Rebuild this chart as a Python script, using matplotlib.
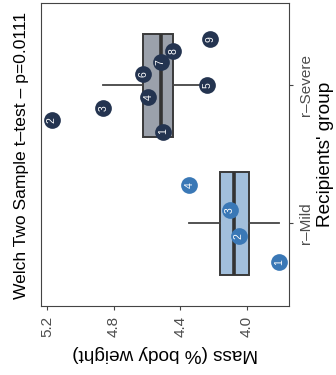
import matplotlib
matplotlib.use("Agg")
import matplotlib.pyplot as plt
import numpy as np

# data (mass in % body weight)
groups = ["r–Mild", "r–Severe"]
mild_ids = [1, 2, 3, 4]
mild_mass = [3.804, 4.047, 4.101, 4.345]
severe_ids = [1, 2, 3, 4, 5, 6, 7, 8, 9]
severe_mass = [4.505, 5.173, 4.863, 4.592, 4.236, 4.622, 4.517, 4.441, 4.220]
mass_ticks = [4.0, 4.4, 4.8, 5.2]
title = "Welch Two Sample t–test – p=0.0111"

plt.rcParams['font.family'] = ['Liberation Sans', 'DejaVu Sans']

box_colors = ['#a2bfdc', '#9ba1ab']
point_colors = ['#3a78b6', '#243450']
spreads = [0.28, 0.335]

fig = plt.figure(figsize=(3.36, 3.75), dpi=100)
ax = fig.add_axes([0.122, 0.184, 0.739, 0.809])

bp = ax.boxplot([mild_mass, severe_mass], positions=[1, 2], orientation='horizontal',
                widths=0.75, patch_artist=True, showfliers=False, showcaps=False,
                medianprops=dict(color='#333333', linewidth=2.6, solid_capstyle='butt'),
                whiskerprops=dict(color='#444444', linewidth=1.3),
                boxprops=dict(edgecolor='#3a3a3a', linewidth=1.4))
for patch, c in zip(bp['boxes'], box_colors):
    patch.set_facecolor(c)

for i, (ids, mass) in enumerate([(mild_ids, mild_mass), (severe_ids, severe_mass)]):
    ypos = (i + 1) + np.linspace(-spreads[i], spreads[i], len(ids))
    ax.scatter(mass, ypos, s=145, color=point_colors[i], zorder=3, linewidths=0)
    for idx, m, y in zip(ids, mass, ypos):
        ax.text(m, y, str(idx), color='white', fontsize=7.5,
                rotation=90, ha='center', va='center', zorder=4)

ax.set_xlim(5.238, 3.743)
ax.set_ylim(0.4, 2.6)
ax.set_xticks(mass_ticks)
ax.set_xticklabels([f"{t:.1f}" for t in mass_ticks])
ax.set_yticks([1, 2])
ax.set_yticklabels(groups, va='center')
ax.yaxis.tick_right()

ax.tick_params(axis='x', length=3, width=0.8, color='#444444', labelcolor='#4d4d4d',
               labelsize=11, labelrotation=90, pad=4)
ax.tick_params(axis='y', length=3, width=0.8, color='#444444', labelcolor='#4d4d4d',
               labelsize=11, labelrotation=90, pad=4)
for s in ax.spines.values():
    s.set_color('#444444')
    s.set_linewidth(0.8)

ax.set_xlabel("Mass (% body weight)", fontsize=13.7, rotation=180, va='center')
ax.xaxis.set_label_coords(0.5, -0.155)
ax.yaxis.set_label_position('right')
ax.set_ylabel("Recipients' group", fontsize=13.7, rotation=90, va='center')
ax.yaxis.set_label_coords(1.146, 0.5)

fig.text(0.064, 0.585, title, fontsize=12.6, rotation=90, ha='center', va='center')

fig.savefig("out.png", dpi=100)
